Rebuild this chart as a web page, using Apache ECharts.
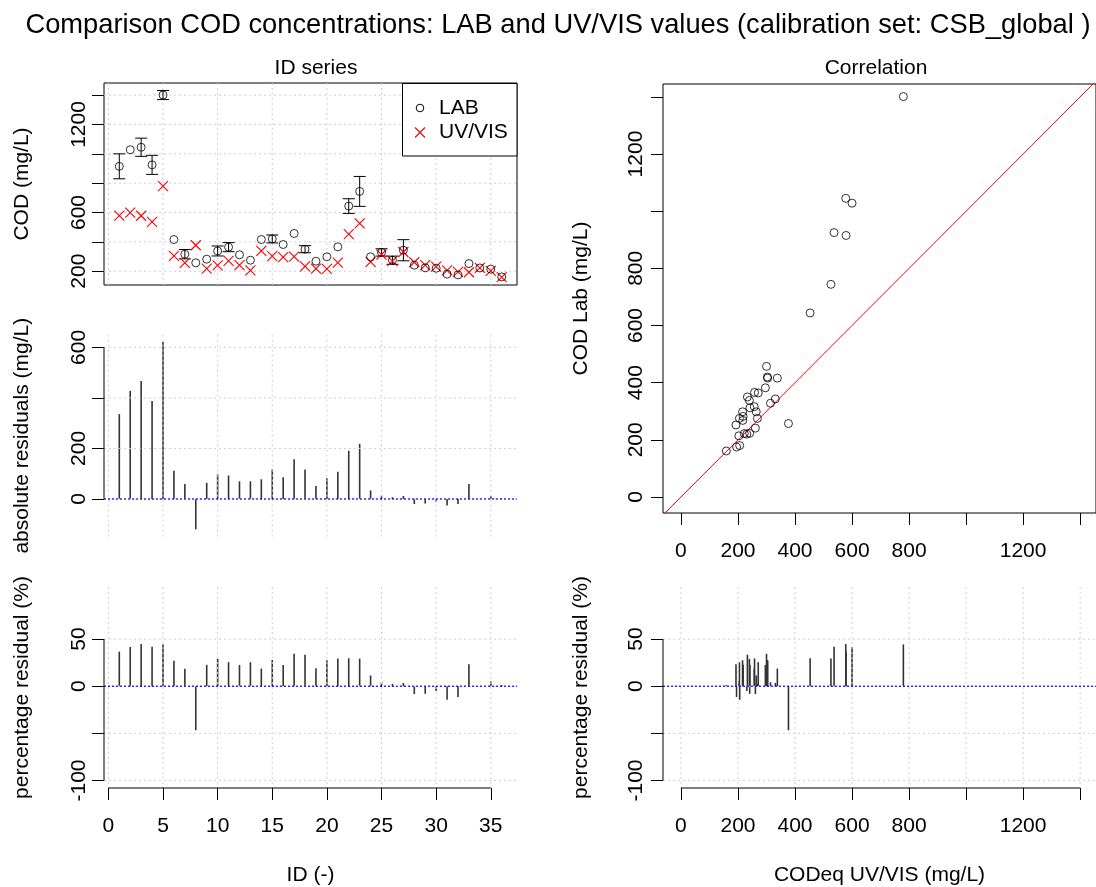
<!DOCTYPE html>
<html>
<head>
<meta charset="utf-8">
<script src="https://cdn.jsdelivr.net/npm/echarts@6/dist/echarts.min.js"></script>
<style>
  html, body { margin: 0; padding: 0; background: #ffffff; }
  #chart { width: 1096px; height: 887px; }
</style>
</head>
<body>
<div id="chart"></div>
<script>
// ---- data: COD per sample ID (mg/L) ----
const sampleIds = [1,2,3,4,5,6,7,8,9,10,11,12,13,14,15,16,17,18,19,20,21,22,23,24,25,26,27,28,29,30,31,32,33,34,35,36];
const codLab = [915,1028,1045,925,1401,416,316,257,282,338,364,312,275,416,420,382,457,350,268,298,366,644,744,298,328,275,343,241,223,220,180,175,252,222,214,161];
const codUvVis = [579,600,578,537,780,304,257,377,218,240,271,242,205,338,303,296,300,233,217,216,258,453,526,264,314,268,331,261,241,231,206,195,193,222,203,159];
// half-width of the lab error bars (0 = no bar)
const labErr = [85,0,62,65,31,0,32,0,0,34,31,0,0,0,27,0,0,24,0,0,0,50,102,0,25,28,72,0,0,0,0,0,0,0,0,0];

// ---- tick values and tick labels ----
const idTicks = [0,5,10,15,20,25,30,35];
const codTicks = [200,400,600,800,1000,1200,1400];
const codTickLabels = [200,600,1200];
const resTicks = [0,200,400,600];
const resTickLabels = [0,200,600];
const pctTicks = [-100,-50,0,50];
const pctTickLabels = [-100,0,50];
const corrTicks = [0,200,400,600,800,1000,1200,1400];
const corrTickLabels = [0,200,400,600,800,1200];

// residuals derived from the two measurements
const absResidual = codLab.map((v, i) => v - codUvVis[i]);
const pctResidual = codLab.map((v, i) => (v - codUvVis[i]) / v * 100);

const FONT = 'Liberation Sans, Arial, Helvetica, sans-serif';
const FS = 21;
const TXT = { color: '#000', fontFamily: FONT, fontSize: FS };

// axis ranges of the five panels
const idRange = [-0.4, 37.4];
const codRange = [106, 1483];
const resRange = [-149.6, 650.6];
const pctRange = [-108, 105.3];
const corrX = [-63, 1455.6];
const corrY = [-56, 1445];

const chart = echarts.init(document.getElementById('chart'), null, { renderer: 'canvas' });

function axis(gi, range, o) {
  o = o || {};
  const a = {
    type: 'value', gridIndex: gi, min: range[0], max: range[1],
    axisLine: { show: false, onZero: false },
    splitLine: { show: false },
    axisTick: o.ticks ? { show: true, customValues: o.ticks, length: 12, inside: false,
                          lineStyle: { color: '#000', width: 1 } } : { show: false },
    axisLabel: o.labels ? Object.assign({ show: true, customValues: o.labels, margin: o.margin,
                          rotate: o.rotate || 0, hideOverlap: false,
                          formatter: v => String(v) }, TXT) : { show: false }
  };
  if (o.name) {
    a.name = o.name;
    a.nameLocation = 'middle';
    a.nameGap = o.nameGap;
    a.nameTextStyle = Object.assign({}, TXT);
  }
  return a;
}

// dotted reference grid, axis line segments and the zero line of one panel
function frame(gi, o) {
  return {
    type: 'custom', xAxisIndex: gi, yAxisIndex: gi, z: 3, silent: true, clip: false,
    data: [[0, 0]],
    renderItem: function (params, api) {
      const cs = params.coordSys;
      const kids = [];
      const gridStyle = { stroke: '#cfcfcf', lineWidth: 1, lineDash: [2, 3] };
      (o.vgrid || []).forEach(v => {
        const x = api.coord([v, 0])[0];
        kids.push({ type: 'line', shape: { x1: x, y1: cs.y, x2: x, y2: cs.y + cs.height }, style: gridStyle });
      });
      (o.hgrid || []).forEach(v => {
        const y = api.coord([0, v])[1];
        kids.push({ type: 'line', shape: { x1: cs.x, y1: y, x2: cs.x + cs.width, y2: y }, style: gridStyle });
      });
      if (o.zero) {
        const y = api.coord([0, 0])[1];
        kids.push({ type: 'line', shape: { x1: cs.x, y1: y, x2: cs.x + cs.width, y2: y },
                    style: { stroke: '#0000ff', lineWidth: 1.2, lineDash: [2, 2] } });
      }
      if (o.yAxisTicks) {
        const t = o.yAxisTicks;
        const ya = api.coord([0, t[0]])[1], yb = api.coord([0, t[t.length - 1]])[1];
        kids.push({ type: 'line', shape: { x1: cs.x, y1: ya, x2: cs.x, y2: yb }, style: { stroke: '#000', lineWidth: 1 } });
      }
      if (o.xAxisTicks) {
        const t = o.xAxisTicks;
        const xa = api.coord([t[0], 0])[0], xb = api.coord([t[t.length - 1], 0])[0];
        const y = cs.y + cs.height;
        kids.push({ type: 'line', shape: { x1: xa, y1: y, x2: xb, y2: y }, style: { stroke: '#000', lineWidth: 1 } });
      }
      return { type: 'group', children: kids };
    }
  };
}

// vertical residual sticks from zero to the value
function sticks(gi, xs, ys) {
  return {
    type: 'custom', xAxisIndex: gi, yAxisIndex: gi, z: 2, silent: true,
    data: xs.map((x, i) => [x, ys[i]]),
    renderItem: function (params, api) {
      const p0 = api.coord([api.value(0), 0]);
      const p1 = api.coord([api.value(0), api.value(1)]);
      return { type: 'line', shape: { x1: p0[0], y1: p0[1], x2: p1[0], y2: p1[1] },
               style: { stroke: '#333', lineWidth: 1.6 } };
    }
  };
}

const errData = [];
sampleIds.forEach((id, i) => { if (labErr[i] > 0) errData.push([id, codLab[i] - labErr[i], codLab[i] + labErr[i]]); });

const option = {
  backgroundColor: '#ffffff',
  animation: false,
  title: [
    { text: 'Comparison COD concentrations: LAB and UV/VIS values (calibration set: CSB_global )',
      left: 553, top: 7, textAlign: 'center',
      textStyle: { color: '#000', fontFamily: FONT, fontSize: 27.3, fontWeight: 'normal' } },
    { text: 'ID series', left: 311, top: 53, textAlign: 'center',
      textStyle: { color: '#000', fontFamily: FONT, fontSize: FS, fontWeight: 'normal' } },
    { text: 'Correlation', left: 871, top: 53, textAlign: 'center',
      textStyle: { color: '#000', fontFamily: FONT, fontSize: FS, fontWeight: 'normal' } }
  ],
  grid: [
    { left: 104, top: 83, width: 413, height: 202, show: true, borderColor: '#000', borderWidth: 1, backgroundColor: 'transparent' },
    { left: 104, top: 334.6, width: 413, height: 202.2 },
    { left: 104, top: 587, width: 413, height: 202 },
    { left: 663, top: 84, width: 434, height: 429, show: true, borderColor: '#000', borderWidth: 1, backgroundColor: 'transparent' },
    { left: 663, top: 587, width: 434, height: 202 }
  ],
  xAxis: [
    axis(0, idRange),
    axis(1, idRange),
    axis(2, idRange, { ticks: idTicks, labels: idTicks, margin: 28, name: 'ID (-)', nameGap: 77 }),
    axis(3, corrX, { ticks: corrTicks, labels: corrTickLabels, margin: 28 }),
    axis(4, corrX, { ticks: corrTicks, labels: corrTickLabels, margin: 28, name: 'CODeq UV/VIS (mg/L)', nameGap: 77 })
  ],
  yAxis: [
    axis(0, codRange, { ticks: codTicks, labels: codTickLabels, margin: 14, rotate: 90, name: 'COD (mg/L)', nameGap: 71 }),
    axis(1, resRange, { ticks: resTicks, labels: resTickLabels, margin: 14, rotate: 90, name: 'absolute residuals (mg/L)', nameGap: 71 }),
    axis(2, pctRange, { ticks: pctTicks, labels: pctTickLabels, margin: 14, rotate: 90, name: 'percentage residual (%)', nameGap: 71 }),
    axis(3, corrY, { ticks: corrTicks, labels: corrTickLabels, margin: 16, rotate: 90, name: 'COD Lab (mg/L)', nameGap: 71 }),
    axis(4, pctRange, { ticks: pctTicks, labels: pctTickLabels, margin: 16, rotate: 90, name: 'percentage residual (%)', nameGap: 71 })
  ],
  series: [
    // ID series panel
    frame(0, { vgrid: idTicks, hgrid: codTicks }),
    {
      type: 'custom', name: 'error', xAxisIndex: 0, yAxisIndex: 0, z: 4, silent: true,
      data: errData,
      renderItem: function (params, api) {
        const a = api.coord([api.value(0), api.value(1)]);
        const b = api.coord([api.value(0), api.value(2)]);
        const w = 6, st = { stroke: '#000', lineWidth: 1 };
        return { type: 'group', children: [
          { type: 'line', shape: { x1: a[0], y1: a[1], x2: b[0], y2: b[1] }, style: st },
          { type: 'line', shape: { x1: a[0] - w, y1: a[1], x2: a[0] + w, y2: a[1] }, style: st },
          { type: 'line', shape: { x1: b[0] - w, y1: b[1], x2: b[0] + w, y2: b[1] }, style: st }
        ] };
      }
    },
    {
      type: 'scatter', name: 'LAB', xAxisIndex: 0, yAxisIndex: 0, z: 5, silent: true,
      data: sampleIds.map((id, i) => [id, codLab[i]]),
      symbol: 'circle', symbolSize: 8,
      itemStyle: { color: 'transparent', borderColor: '#000', borderWidth: 1 }
    },
    {
      type: 'custom', name: 'UV/VIS', xAxisIndex: 0, yAxisIndex: 0, z: 5, silent: true,
      data: sampleIds.map((id, i) => [id, codUvVis[i]]),
      renderItem: function (params, api) {
        const p = api.coord([api.value(0), api.value(1)]);
        const h = 5, st = { stroke: '#ff0000', lineWidth: 1.1 };
        return { type: 'group', children: [
          { type: 'line', shape: { x1: p[0] - h, y1: p[1] - h, x2: p[0] + h, y2: p[1] + h }, style: st },
          { type: 'line', shape: { x1: p[0] - h, y1: p[1] + h, x2: p[0] + h, y2: p[1] - h }, style: st }
        ] };
      }
    },
    // absolute residuals
    sticks(1, sampleIds, absResidual),
    frame(1, { vgrid: idTicks, hgrid: resTicks, zero: true, yAxisTicks: resTicks }),
    // percentage residuals per ID
    sticks(2, sampleIds, pctResidual),
    frame(2, { vgrid: idTicks, hgrid: pctTicks, zero: true, yAxisTicks: pctTicks, xAxisTicks: idTicks }),
    // correlation panel
    {
      type: 'line', xAxisIndex: 3, yAxisIndex: 3, z: 3, silent: true, clip: true,
      data: [[corrX[0] - 100, corrX[0] - 100], [corrX[1] + 100, corrX[1] + 100]],
      showSymbol: false, symbol: 'none',
      lineStyle: { color: '#ff0000', width: 1 }
    },
    {
      type: 'scatter', xAxisIndex: 3, yAxisIndex: 3, z: 5, silent: true,
      data: sampleIds.map((id, i) => [codUvVis[i], codLab[i]]),
      symbol: 'circle', symbolSize: 8,
      itemStyle: { color: 'transparent', borderColor: '#000', borderWidth: 1 }
    },
    // percentage residuals against UV/VIS value
    sticks(4, codUvVis, pctResidual),
    frame(4, { vgrid: corrTicks, hgrid: pctTicks, zero: true, yAxisTicks: pctTicks, xAxisTicks: corrTicks })
  ],
  graphic: [
    { type: 'rect', z: 100, shape: { x: 402.5, y: 83.5, width: 114.5, height: 72.5 },
      style: { fill: '#fff', stroke: '#000', lineWidth: 1 } },
    { type: 'circle', z: 101, shape: { cx: 420, cy: 108, r: 3.8 },
      style: { fill: 'transparent', stroke: '#000', lineWidth: 1 } },
    { type: 'line', z: 101, shape: { x1: 415, y1: 127.5, x2: 425, y2: 137.5 }, style: { stroke: '#ff0000', lineWidth: 1.1 } },
    { type: 'line', z: 101, shape: { x1: 415, y1: 137.5, x2: 425, y2: 127.5 }, style: { stroke: '#ff0000', lineWidth: 1.1 } },
    { type: 'text', z: 101, x: 439, y: 108,
      style: { text: 'LAB', fill: '#000', font: FS + 'px ' + FONT, textVerticalAlign: 'middle', verticalAlign: 'middle' } },
    { type: 'text', z: 101, x: 439, y: 132.5,
      style: { text: 'UV/VIS', fill: '#000', font: FS + 'px ' + FONT, textVerticalAlign: 'middle', verticalAlign: 'middle' } }
  ]
};

chart.setOption(option);
</script>
</body>
</html>
